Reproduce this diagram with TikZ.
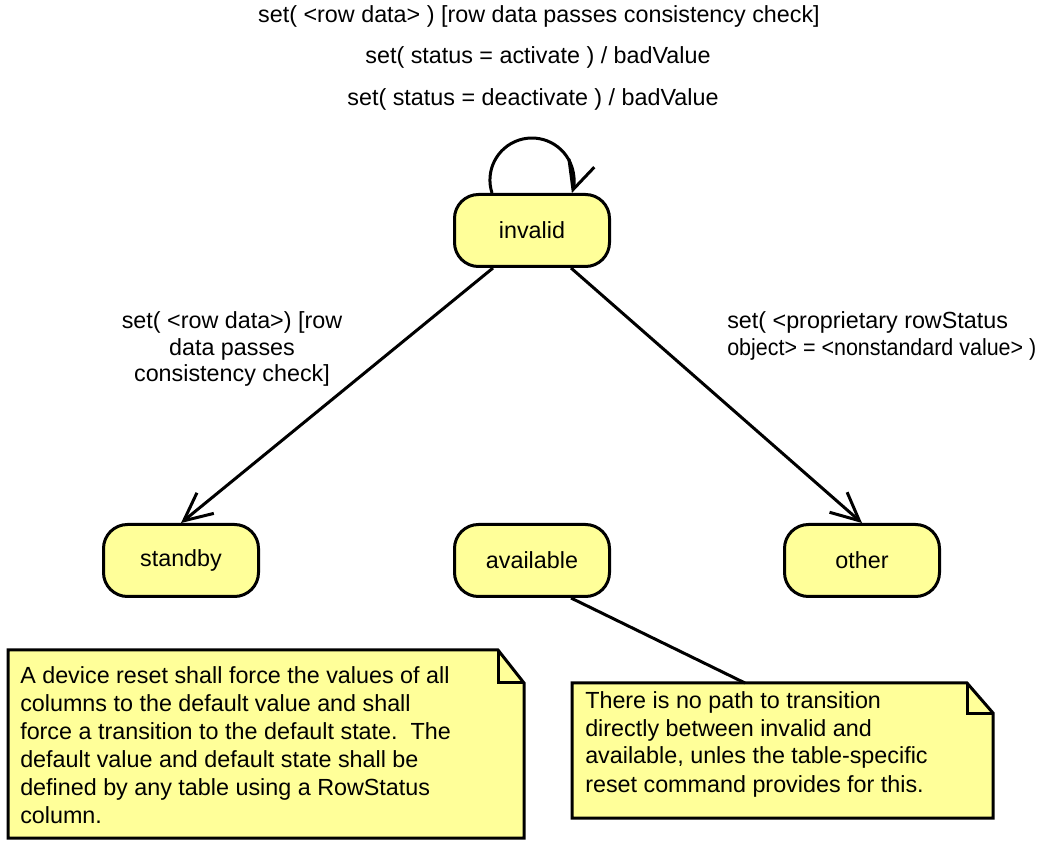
\documentclass[tikz,border=0pt]{standalone}
\usepackage{fontspec}
\setmainfont{Liberation Sans}
\usetikzlibrary{arrows.meta}
\definecolor{stfill}{HTML}{FFFF99}
\begin{document}
\begin{tikzpicture}[x=0.75pt,y=-0.75pt,
  statebox/.style={draw, line width=2.25pt, fill=stfill, rounded corners=18pt,
    minimum width=116.25pt, minimum height=54pt, inner sep=0pt,
    font=\fontsize{17.5}{21}\selectfont},
  trans/.style={line width=2.25pt, -{Straight Barb[length=21pt,width=20pt,line width=2.25pt]}},
  link/.style={line width=2.25pt},
  lbl/.style={font=\fontsize{17.5}{20}\selectfont, inner sep=0pt},
  notebox/.style={draw, line width=2.25pt, fill=stfill, line join=miter},
  notefold/.style={draw, line width=2.25pt, line join=miter},
  notetext/.style={font=\fontsize{17.5}{21}\selectfont, align=left, inner sep=0pt, anchor=base west}]
\useasboundingbox (0,0) rectangle (1040,841);
\fill[white] (0,0) rectangle (1040,841);
\clip (0,0) rectangle (1040,841);

% states
\node[statebox] (invalid)   at (532,230.5) {invalid};
\node[statebox] (standby)   at (181,560.5) {standby};
\node[statebox] (available) at (532,560.5) {available};
\node[statebox] (other)     at (862,560.5) {other};

% notes (text nodes anchored at the baseline of their last line)
\draw[notebox] (8,650) -- (498,650) -- (524,683) -- (524,838) -- (8,838) -- cycle;
\draw[notefold] (498,650) -- (498,683) -- (524,683);
\node[notetext] (note1) at (20,823) {A device reset shall force the values of all\\
columns to the default value and shall\\
force a transition to the default state.\ \ The\\
default value and default state shall be\\
defined by any table using a RowStatus\\
column.};

\draw[notebox] (572,683) -- (967,683) -- (993,713) -- (993,818) -- (572,818) -- cycle;
\draw[notefold] (967,683) -- (967,713) -- (993,713);
\coordinate (note2top) at (745,683);
\node[notetext] (note2) at (585,792) {There is no path to transition\\
directly between invalid and\\
available, unles the table-specific\\
reset command provides for this.};

% transitions
\draw[trans] ([xshift=-30pt]invalid.north) arc[start angle=198, end angle=-18, radius=31.5pt];
\draw[trans] ([xshift=-29.25pt]invalid.south) -- (standby.north);
\draw[trans] ([xshift=29.25pt]invalid.south) -- (other.north);
\draw[link] ([xshift=29.25pt]available.south) -- (note2top);

% labels
\node[lbl, anchor=base] (top1) at (539,23) {set( <row data> ) [row data passes consistency check]};
\node[lbl, anchor=base] (top2) at (538,64) {set( status = activate ) / badValue};
\node[lbl, anchor=base] (top3) at (533,106) {set( status = deactivate ) / badValue};
\node[lbl, anchor=base, align=center, font=\fontsize{17.5}{19.9}\selectfont] (lblleft) at (232,382)
  {set( <row data>) [row\\ data passes\\ consistency check]};
\node[lbl, anchor=base west, align=left, font=\fontsize{17.5}{20.25}\selectfont] (lblright) at (727,356)
  {set( <proprietary rowStatus\\ \scalebox{0.92}[1]{object> = <nonstandard value> )}};
\end{tikzpicture}
\end{document}
